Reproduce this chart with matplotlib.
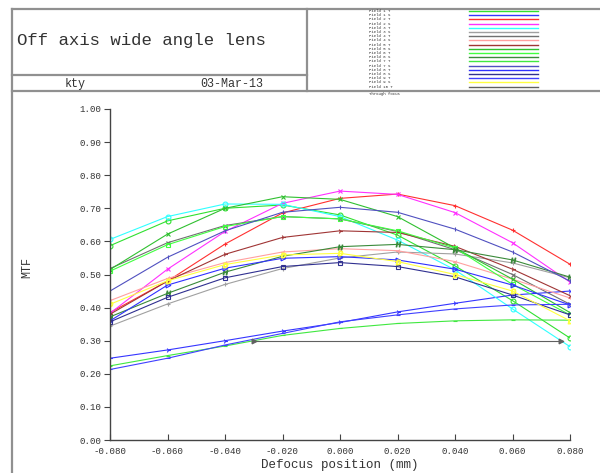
import numpy as np
import matplotlib
matplotlib.use("Agg")
import matplotlib.pyplot as plt
from matplotlib.lines import Line2D

# defocus sample positions (mm)
defocus = [-0.08, -0.06, -0.04, -0.02, 0.0, 0.02, 0.04, 0.06, 0.08]

# MTF values, one list per legend entry
f1_t = [0.587, 0.662, 0.700, 0.710, 0.680, 0.619, 0.526, 0.421, 0.308]
f1_s = [0.247, 0.272, 0.300, 0.329, 0.355, 0.387, 0.413, 0.438, 0.450]
f2_t = [0.385, 0.480, 0.592, 0.686, 0.730, 0.743, 0.708, 0.634, 0.531]
f2_s = [0.383, 0.516, 0.630, 0.715, 0.752, 0.742, 0.687, 0.596, 0.477]
f3_t = [0.606, 0.675, 0.713, 0.712, 0.675, 0.604, 0.514, 0.396, 0.282]
f3_s = [0.344, 0.411, 0.470, 0.518, 0.550, 0.568, 0.562, 0.535, 0.490]
f4_t = [0.518, 0.596, 0.648, 0.675, 0.668, 0.630, 0.575, 0.500, 0.410]
f4_s = [0.421, 0.488, 0.536, 0.568, 0.578, 0.572, 0.539, 0.486, 0.429]
f5_t = [0.380, 0.480, 0.561, 0.612, 0.632, 0.627, 0.585, 0.516, 0.436]
f5_s = [0.515, 0.622, 0.700, 0.735, 0.727, 0.675, 0.580, 0.486, 0.385]
f6_t = [0.510, 0.590, 0.645, 0.675, 0.668, 0.632, 0.580, 0.470, 0.378]
f6_s = [0.372, 0.443, 0.507, 0.555, 0.584, 0.591, 0.575, 0.544, 0.492]
f7_t = [0.224, 0.255, 0.284, 0.316, 0.337, 0.352, 0.360, 0.363, 0.362]
f7_s = [0.450, 0.552, 0.632, 0.688, 0.703, 0.688, 0.637, 0.568, 0.480]
f8_t = [0.360, 0.468, 0.519, 0.549, 0.554, 0.544, 0.516, 0.468, 0.408]
f8_s = [0.357, 0.431, 0.490, 0.524, 0.536, 0.524, 0.493, 0.438, 0.378]
f9_t = [0.213, 0.247, 0.287, 0.322, 0.357, 0.378, 0.396, 0.408, 0.410]
f9_s = [0.410, 0.481, 0.530, 0.559, 0.564, 0.539, 0.500, 0.450, 0.360]
# last one only covers part of the range
f10_x = [-0.030, 0.077]
f10_t = [0.300, 0.300]

series = [f1_t, f1_s, f2_t, f2_s, f3_t, f3_s, f4_t, f4_s, f5_t, f5_s,
          f6_t, f6_s, f7_t, f7_s, f8_t, f8_s, f9_t, f9_s]
colors = ["#30e030", "#3535ff", "#ff3030", "#ff30ff", "#30ffff", "#a0a0a0",
          "#707070", "#ffa0a0", "#a03535", "#30c030", "#40ff40", "#3a8a3a",
          "#40e840", "#5050c0", "#3030ff", "#303090", "#4040ff", "#ffff40",
          "#606060"]
markers = ["o", "4", "+", "x", "o", "+", "x", "3", "4", "x",
           "s", "$H$", "_", "|", ">", "s", "_", "$D$", ">"]
labels = ["Field %d %s" % (i // 2 + 1, "TS"[i % 2]) for i in range(19)]

mono = "Liberation Mono"
txt = "#333333"
frame = "#909090"

fig = plt.figure(figsize=(6.0, 4.73), dpi=100)

def fx(px):
    return px / 600.0

def fy(py):
    return 1 - py / 473.0

# header frame
for xs, ys in [((12, 600), (9, 9)), ((12, 12), (9, 473)), ((12, 307), (75, 75)),
               ((12, 600), (91, 91)), ((307, 307), (9, 91))]:
    fig.add_artist(Line2D([fx(xs[0]), fx(xs[1])], [fy(ys[0]), fy(ys[1])],
                          color=frame, lw=1.6))

fig.text(fx(17), fy(41), "Off axis wide angle lens", family=mono, fontsize=12.5,
         color=txt, va="center", ha="left")
fig.text(fx(75), fy(84), "kty", family=mono, fontsize=8.5, color=txt,
         va="center", ha="center")
fig.text(fx(232), fy(84), "03-Mar-13", family=mono, fontsize=8.5, color=txt,
         va="center", ha="center")

# legend block
for i, lab in enumerate(labels):
    yy = 11 + i * 4.2
    fig.add_artist(Line2D([fx(469), fx(538)], [fy(yy), fy(yy)],
                          color=colors[i], lw=1.0))
    fig.text(fx(369), fy(yy), lab, family=mono, fontsize=2.9, color=txt,
             va="center", ha="left")
fig.text(fx(369), fy(93.5), "Through focus", family=mono, fontsize=2.9,
         color=txt, va="center", ha="left")

# main plot
ax = fig.add_axes([110 / 600, 1 - 440 / 473, 460 / 600, 331 / 473])
for i, vals in enumerate(series):
    ax.plot(defocus, vals, color=colors[i], lw=0.8, marker=markers[i],
            markersize=3.5, markeredgewidth=0.8, markerfacecolor="none")
ax.plot(f10_x, f10_t, color=colors[18], lw=0.8, marker=markers[18],
        markersize=3.5, markeredgewidth=0.8)

ax.set_xlim(-0.08, 0.08)
ax.set_ylim(0, 1)
xt = np.round(np.arange(-0.08, 0.0801, 0.02), 3)
ax.set_xticks(xt)
ax.set_xticklabels(["%.3f" % abs(v) if v == 0 else "%.3f" % v for v in xt])
yt = np.round(np.arange(0, 1.001, 0.1), 2)
ax.set_yticks(yt)
ax.set_yticklabels(["%.2f" % v for v in yt])
for s in ["top", "right"]:
    ax.spines[s].set_visible(False)
for s in ["left", "bottom"]:
    ax.spines[s].set_color("#444444")
    ax.spines[s].set_linewidth(1.0)
ax.tick_params(axis="x", direction="in", length=4, color="#444444",
               labelsize=6.6, labelcolor=txt, pad=5)
ax.tick_params(axis="y", direction="out", length=4, color="#444444",
               labelsize=6.6, labelcolor=txt, pad=2)
for lab in ax.get_xticklabels() + ax.get_yticklabels():
    lab.set_family(mono)
ax.set_xlabel("Defocus position (mm)", family=mono, fontsize=9, color=txt,
              labelpad=2)
fig.text(fx(27), fy(268), "MTF", family=mono, fontsize=8.5, color=txt,
         rotation=90, va="center", ha="center")

fig.savefig("out.png", dpi=100)
